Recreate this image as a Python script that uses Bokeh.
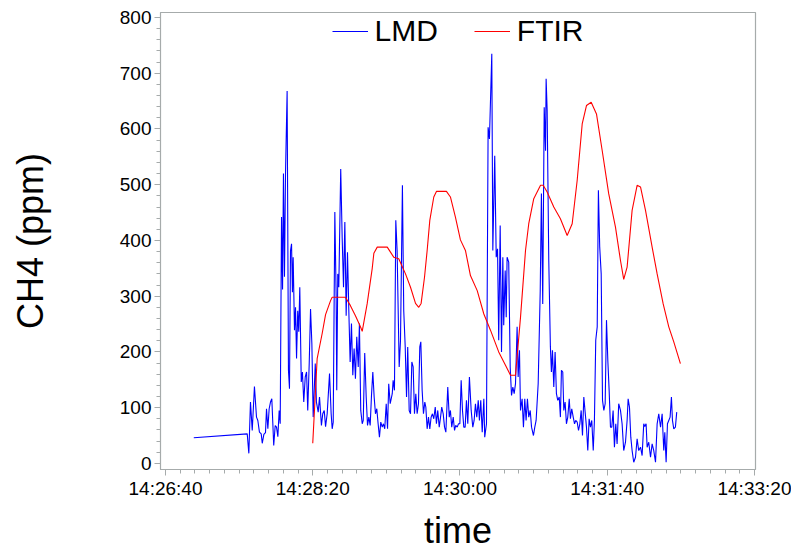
import pandas as pd
from bokeh.plotting import figure
from bokeh.models import Range1d, SingleIntervalTicker, DatetimeTickFormatter
from bokeh.embed import file_html
from bokeh.resources import INLINE

# ---- data: seconds after 14:26:40 and CH4 in ppm ----
start_time = "2000-01-01 14:26:40"

lmd_t = [19.2, 55.5, 56.6, 57.7, 58.9, 60.4, 61.8, 62.7, 63.8, 65.0, 65.7, 66.8, 67.9, 68.6, 69.5,
         70.4, 71.3, 72.2, 73.5, 74.5, 75.4, 76.3, 77.2, 77.9, 78.8, 79.5, 80.1, 80.8, 81.5, 82.6,
         83.5, 84.2, 84.9, 85.6, 86.2, 86.7, 87.6, 88.3, 89.0, 89.8, 90.5, 91.2, 92.2, 93.0, 93.9,
         94.9, 95.8, 96.6, 97.6, 98.5, 99.4, 100.3, 101.7, 102.5, 103.7, 104.6, 105.9, 106.8, 107.8,
         108.7, 109.8, 111.4, 112.5, 113.2, 113.9, 115.0, 115.9, 116.3, 117.0, 117.7, 119.0, 120.0,
         120.9, 121.8, 122.7, 123.6, 124.5, 125.4, 126.3, 127.2, 128.1, 129.0, 129.9, 130.9, 131.7,
         132.6, 133.6, 134.3, 135.3, 136.3, 137.2, 138.1, 139.0, 139.9, 140.8, 141.7, 142.6, 143.5,
         144.4, 145.3, 146.2, 147.2, 148.0, 148.9, 149.9, 150.8, 151.6, 152.6, 154.0, 154.6, 155.5,
         156.4, 157.3, 158.7, 159.6, 160.9, 161.8, 162.8, 163.7, 164.5, 165.5, 166.4, 167.3, 168.2,
         169.1, 170.0, 170.9, 171.8, 172.7, 173.4, 174.3, 175.2, 176.1, 176.8, 177.7, 178.6, 179.5,
         180.4, 181.3, 182.2, 183.2, 184.0, 184.9, 185.9, 186.8, 187.6, 188.6, 189.5, 190.4, 191.7,
         192.7, 193.5, 194.4, 195.4, 196.3, 197.1, 198.1, 199.0, 199.9, 200.8, 201.7, 202.6, 203.5,
         204.4, 205.3, 206.4, 207.6, 208.7, 209.6, 210.5, 211.4, 212.4, 213.2, 214.1, 215.1, 216.2,
         216.8, 218.0, 219.1, 220.0, 221.6, 222.3, 223.6, 224.6, 225.5, 226.3, 227.3, 228.2, 229.1,
         229.7, 230.7, 231.4, 232.0, 233.1, 234.1, 235.0, 235.9, 236.8, 237.7, 238.8, 239.5, 240.4,
         241.1, 242.2, 243.1, 244.0, 244.9, 245.8, 246.7, 247.7, 248.6, 249.9, 250.8, 251.7, 253.1,
         254.5, 255.3, 256.2, 257.2, 258.1, 258.5, 259.2, 260.3, 261.4, 262.1, 262.8, 263.7, 264.6,
         265.5, 266.4, 267.4, 268.2, 268.9, 269.8, 270.5, 271.4, 272.3, 273.2, 274.2, 275.0, 275.9,
         276.9, 277.8, 278.6, 279.6, 280.5, 281.4, 282.3, 283.2, 284.1, 285.0, 285.9, 286.8, 287.7,
         288.6, 289.5, 290.5, 291.3, 292.2, 293.2, 294.0, 294.9, 295.9, 296.8, 297.7, 298.6, 299.5,
         300.4, 301.3, 302.2, 303.1, 304.0, 304.9, 305.8, 306.7, 307.8, 309.0, 310.1, 311.2, 312.4,
         313.5, 314.2, 315.1, 316.0, 316.9, 318.0, 319.2, 320.3, 321.4, 322.6, 323.7, 324.8, 325.5,
         326.4, 327.1, 328.2, 329.4, 330.5, 331.6, 332.8, 333.9, 335.0, 336.2, 337.3, 338.4, 339.1,
         340.0, 340.9, 341.8, 342.7, 343.6, 344.3, 345.2, 346.3, 347.2]

lmd_v = [46, 53, 18, 110, 59, 138, 83, 77, 56, 53, 36, 52, 55, 98, 62,
         98, 110, 116, 32, 68, 65, 48, 95, 71, 442, 312, 520, 335, 520, 668,
         167, 134, 382, 394, 307, 370, 239, 280, 188, 274, 236, 316, 146, 164, 110,
         155, 164, 95, 179, 277, 215, 83, 179, 110, 92, 119, 68, 89, 95,
         66, 89, 161, 89, 62, 74, 451, 298, 131, 340, 316, 528, 403,
         316, 433, 265, 379, 274, 182, 251, 158, 206, 152, 227, 173, 251,
         95, 71, 77, 198, 119, 68, 83, 68, 122, 164, 119, 89, 98,
         71, 47, 74, 65, 71, 62, 107, 62, 143, 107, 125, 149, 131,
         436, 382, 173, 221, 499, 274, 209, 119, 209, 95, 89, 182, 173,
         89, 125, 89, 107, 209, 218, 131, 89, 110, 101, 62, 83, 62,
         83, 89, 80, 101, 71, 95, 65, 83, 101, 89, 65, 56, 137,
         83, 95, 65, 83, 59, 68, 65, 71, 71, 149, 95, 65, 65,
         113, 71, 155, 95, 65, 77, 107, 83, 113, 77, 113, 56, 116,
         47, 71, 603, 582, 735, 382, 552, 370, 385, 221, 427, 200, 370,
         248, 346, 262, 370, 361, 173, 122, 137, 125, 143, 245, 155, 203,
         95, 116, 65, 116, 77, 116, 83, 95, 65, 50, 65, 77, 143,
         310, 484, 286, 639, 561, 690, 633, 364, 209, 164, 203, 137, 200,
         125, 113, 119, 83, 167, 164, 95, 110, 71, 83, 116, 80, 98,
         83, 71, 77, 74, 59, 71, 95, 50, 119, 92, 65, 23, 80,
         65, 77, 23, 77, 221, 245, 490, 388, 340, 113, 95, 107, 257,
         185, 131, 65, 65, 95, 29, 71, 35, 107, 95, 71, 23, 38,
         77, 116, 101, 47, 23, 2, 11, 44, 23, 29, 14, 71, 66,
         71, 29, 38, 11, 35, 23, 2, 71, 89, 65, 89, 23, 56,
         2, 71, 77, 83, 119, 77, 62, 65, 92]

ftir_t = [100.0, 103.0, 106.4, 108.7, 112.1, 113.2, 122.2, 125.6, 129.0, 132.4, 133.6, 137.0,
          140.4, 141.5, 143.8, 150.6, 152.8, 155.0, 158.4, 163.0, 166.4, 169.8, 172.0, 173.6,
          175.9, 177.7, 179.5, 182.2, 184.0, 190.8, 193.5, 196.9, 200.3, 203.7, 207.1, 211.7,
          216.2, 220.7, 226.3, 230.9, 234.3, 237.7, 241.1, 244.5, 246.7, 250.1, 254.7, 256.5,
          259.2, 263.7, 268.2, 272.8, 276.2, 279.6, 283.0, 285.9, 289.1, 292.7, 296.6, 301.0,
          305.6, 309.0, 311.2, 313.5, 316.9, 320.3, 322.6, 326.0, 330.5, 333.9, 338.0, 341.8,
          345.2, 349.7]

ftir_v = [36, 188, 233, 267, 292, 298, 298, 283, 265, 245, 237, 287,
          350, 377, 388, 388, 379, 370, 367, 340, 316, 287, 280, 287,
          334, 382, 436, 478, 488, 488, 478, 442, 401, 382, 337, 310,
          268, 239, 200, 176, 158, 158, 262, 382, 430, 475, 499, 499,
          487, 460, 439, 409, 430, 508, 609, 642, 648, 627, 561, 484,
          424, 364, 330, 352, 454, 499, 496, 454, 388, 340, 286, 245,
          218, 179]

x_start_s = -3.4
x_end_s = 400.7
y_start = -11
y_end = 809

t0 = pd.Timestamp(start_time)
lmd_x = [t0 + pd.Timedelta(seconds=s) for s in lmd_t]
ftir_x = [t0 + pd.Timedelta(seconds=s) for s in ftir_t]

FONT = "Liberation Sans"
GRAY = "#a6abab"

p = figure(width=791, height=553, x_axis_type="datetime",
           output_backend="svg", toolbar_location=None,
           min_border_left=160, min_border_right=36, min_border_top=12, min_border_bottom=84)
p.x_range = Range1d(t0 + pd.Timedelta(seconds=x_start_s), t0 + pd.Timedelta(seconds=x_end_s))
p.y_range = Range1d(y_start, y_end)

p.line(lmd_x, lmd_v, color="#0000ff", line_width=1.1, legend_label="LMD")
p.line(ftir_x, ftir_v, color="#ff0000", line_width=1.1, legend_label="FTIR")

p.xgrid.visible = False
p.ygrid.visible = False
p.outline_line_color = GRAY
p.outline_line_width = 1.2
p.background_fill_color = "white"
p.border_fill_color = "white"

p.xaxis.ticker = SingleIntervalTicker(interval=100000, num_minor_ticks=10)
fmt = "%H:%M:%S"
p.xaxis.formatter = DatetimeTickFormatter(milliseconds=fmt, seconds=fmt, minsec=fmt, minutes=fmt,
                                          hourmin=fmt, hours=fmt, days=fmt, months=fmt, years=fmt)
p.yaxis.ticker = SingleIntervalTicker(interval=100, num_minor_ticks=5)

for ax in (p.xaxis[0], p.yaxis[0]):
    ax.axis_line_color = GRAY
    ax.major_tick_line_color = GRAY
    ax.minor_tick_line_color = GRAY
    ax.major_tick_in = 0
    ax.major_tick_out = 6
    ax.minor_tick_in = 0
    ax.minor_tick_out = 4
    ax.major_label_text_font = FONT
    ax.major_label_text_font_size = "19px"
    ax.major_label_text_color = "black"
    ax.axis_label_text_font = FONT
    ax.axis_label_text_font_size = "36px"
    ax.axis_label_text_font_style = "normal"
    ax.axis_label_text_color = "black"

p.xaxis.axis_label = "time"
p.yaxis.axis_label = "CH4 (ppm)"
p.xaxis.major_label_standoff = 2
p.yaxis.major_label_standoff = 3
p.xaxis.axis_label_standoff = 8
p.yaxis.axis_label_standoff = 66

lg = p.legend[0]
lg.location = "top_center"
lg.orientation = "horizontal"
lg.label_text_font = FONT
lg.label_text_font_size = "30px"
lg.label_text_color = "black"
lg.glyph_width = 36
lg.label_standoff = 7
lg.spacing = 36
lg.border_line_color = None
lg.background_fill_alpha = 0
lg.margin = 2
lg.padding = 2

open("out.html", "w").write(file_html(p, INLINE))
